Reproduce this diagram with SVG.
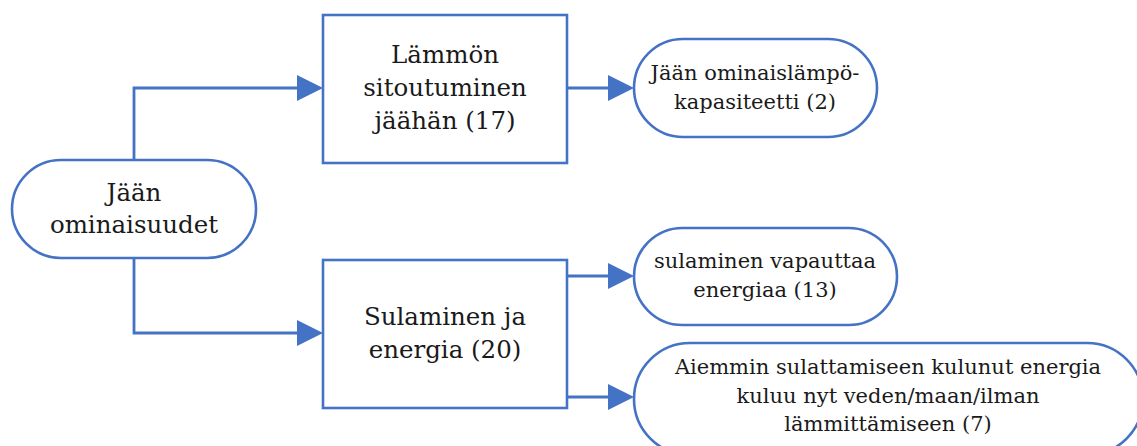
<svg xmlns="http://www.w3.org/2000/svg" width="1137" height="446" viewBox="0 0 1137 446">
<style>
.shape{fill:#fff;stroke:#4472C4;stroke-width:2.6}
.conn{fill:none;stroke:#4472C4;stroke-width:2.8}
.tb{font-family:"DejaVu Serif","Liberation Serif",serif;font-size:24.5px;fill:#1a1a1a;text-anchor:middle}
.tp{font-family:"DejaVu Serif","Liberation Serif",serif;font-size:21px;fill:#1a1a1a;text-anchor:middle}
</style>
<defs>
<marker id="arr" markerUnits="userSpaceOnUse" markerWidth="26" markerHeight="26" viewBox="0 0 26 26" refX="13" refY="13" orient="auto">
<path d="M0,0 L26,13 L0,26 z" fill="#4472C4"/>
</marker>
</defs>
<g id="connectors">
<path class="conn" d="M134,160 V88 H310" marker-end="url(#arr)"/>
<path class="conn" d="M134,258 V333 H310" marker-end="url(#arr)"/>
<path class="conn" d="M567,88 H621" marker-end="url(#arr)"/>
<path class="conn" d="M567,276 H621" marker-end="url(#arr)"/>
<path class="conn" d="M567,397 H621" marker-end="url(#arr)"/>
</g>
<g id="node-jaan-ominaisuudet">
<rect class="shape" x="12" y="160" width="244" height="98" rx="49"/>
<text class="tb" x="134" y="201">Jään</text>
<text class="tb" x="134" y="233">ominaisuudet</text>
</g>
<g id="node-lammon-sitoutuminen">
<rect class="shape" x="323" y="15" width="244" height="148"/>
<text class="tb" x="445" y="63">Lämmön</text>
<text class="tb" x="445" y="96">sitoutuminen</text>
<text class="tb" x="445" y="129">jäähän (17)</text>
</g>
<g id="node-sulaminen-ja-energia">
<rect class="shape" x="323" y="260" width="244" height="148"/>
<text class="tb" x="445" y="325">Sulaminen ja</text>
<text class="tb" x="445" y="358">energia (20)</text>
</g>
<g id="node-ominaislampokapasiteetti">
<rect class="shape" x="634" y="39" width="243" height="98" rx="49"/>
<text class="tp" x="755" y="80">Jään ominaislämpö-</text>
<text class="tp" x="755" y="109">kapasiteetti (2)</text>
</g>
<g id="node-sulaminen-vapauttaa">
<rect class="shape" x="634" y="228" width="263" height="97" rx="48.5"/>
<text class="tp" x="765" y="268">sulaminen vapauttaa</text>
<text class="tp" x="765" y="297">energiaa (13)</text>
</g>
<g id="node-aiemmin">
<rect class="shape" x="634" y="343" width="509" height="112" rx="56"/>
<text class="tp" x="888" y="374">Aiemmin sulattamiseen kulunut energia</text>
<text class="tp" x="888" y="403">kuluu nyt veden/maan/ilman</text>
<text class="tp" x="888" y="431">lämmittämiseen (7)</text>
</g>
</svg>
